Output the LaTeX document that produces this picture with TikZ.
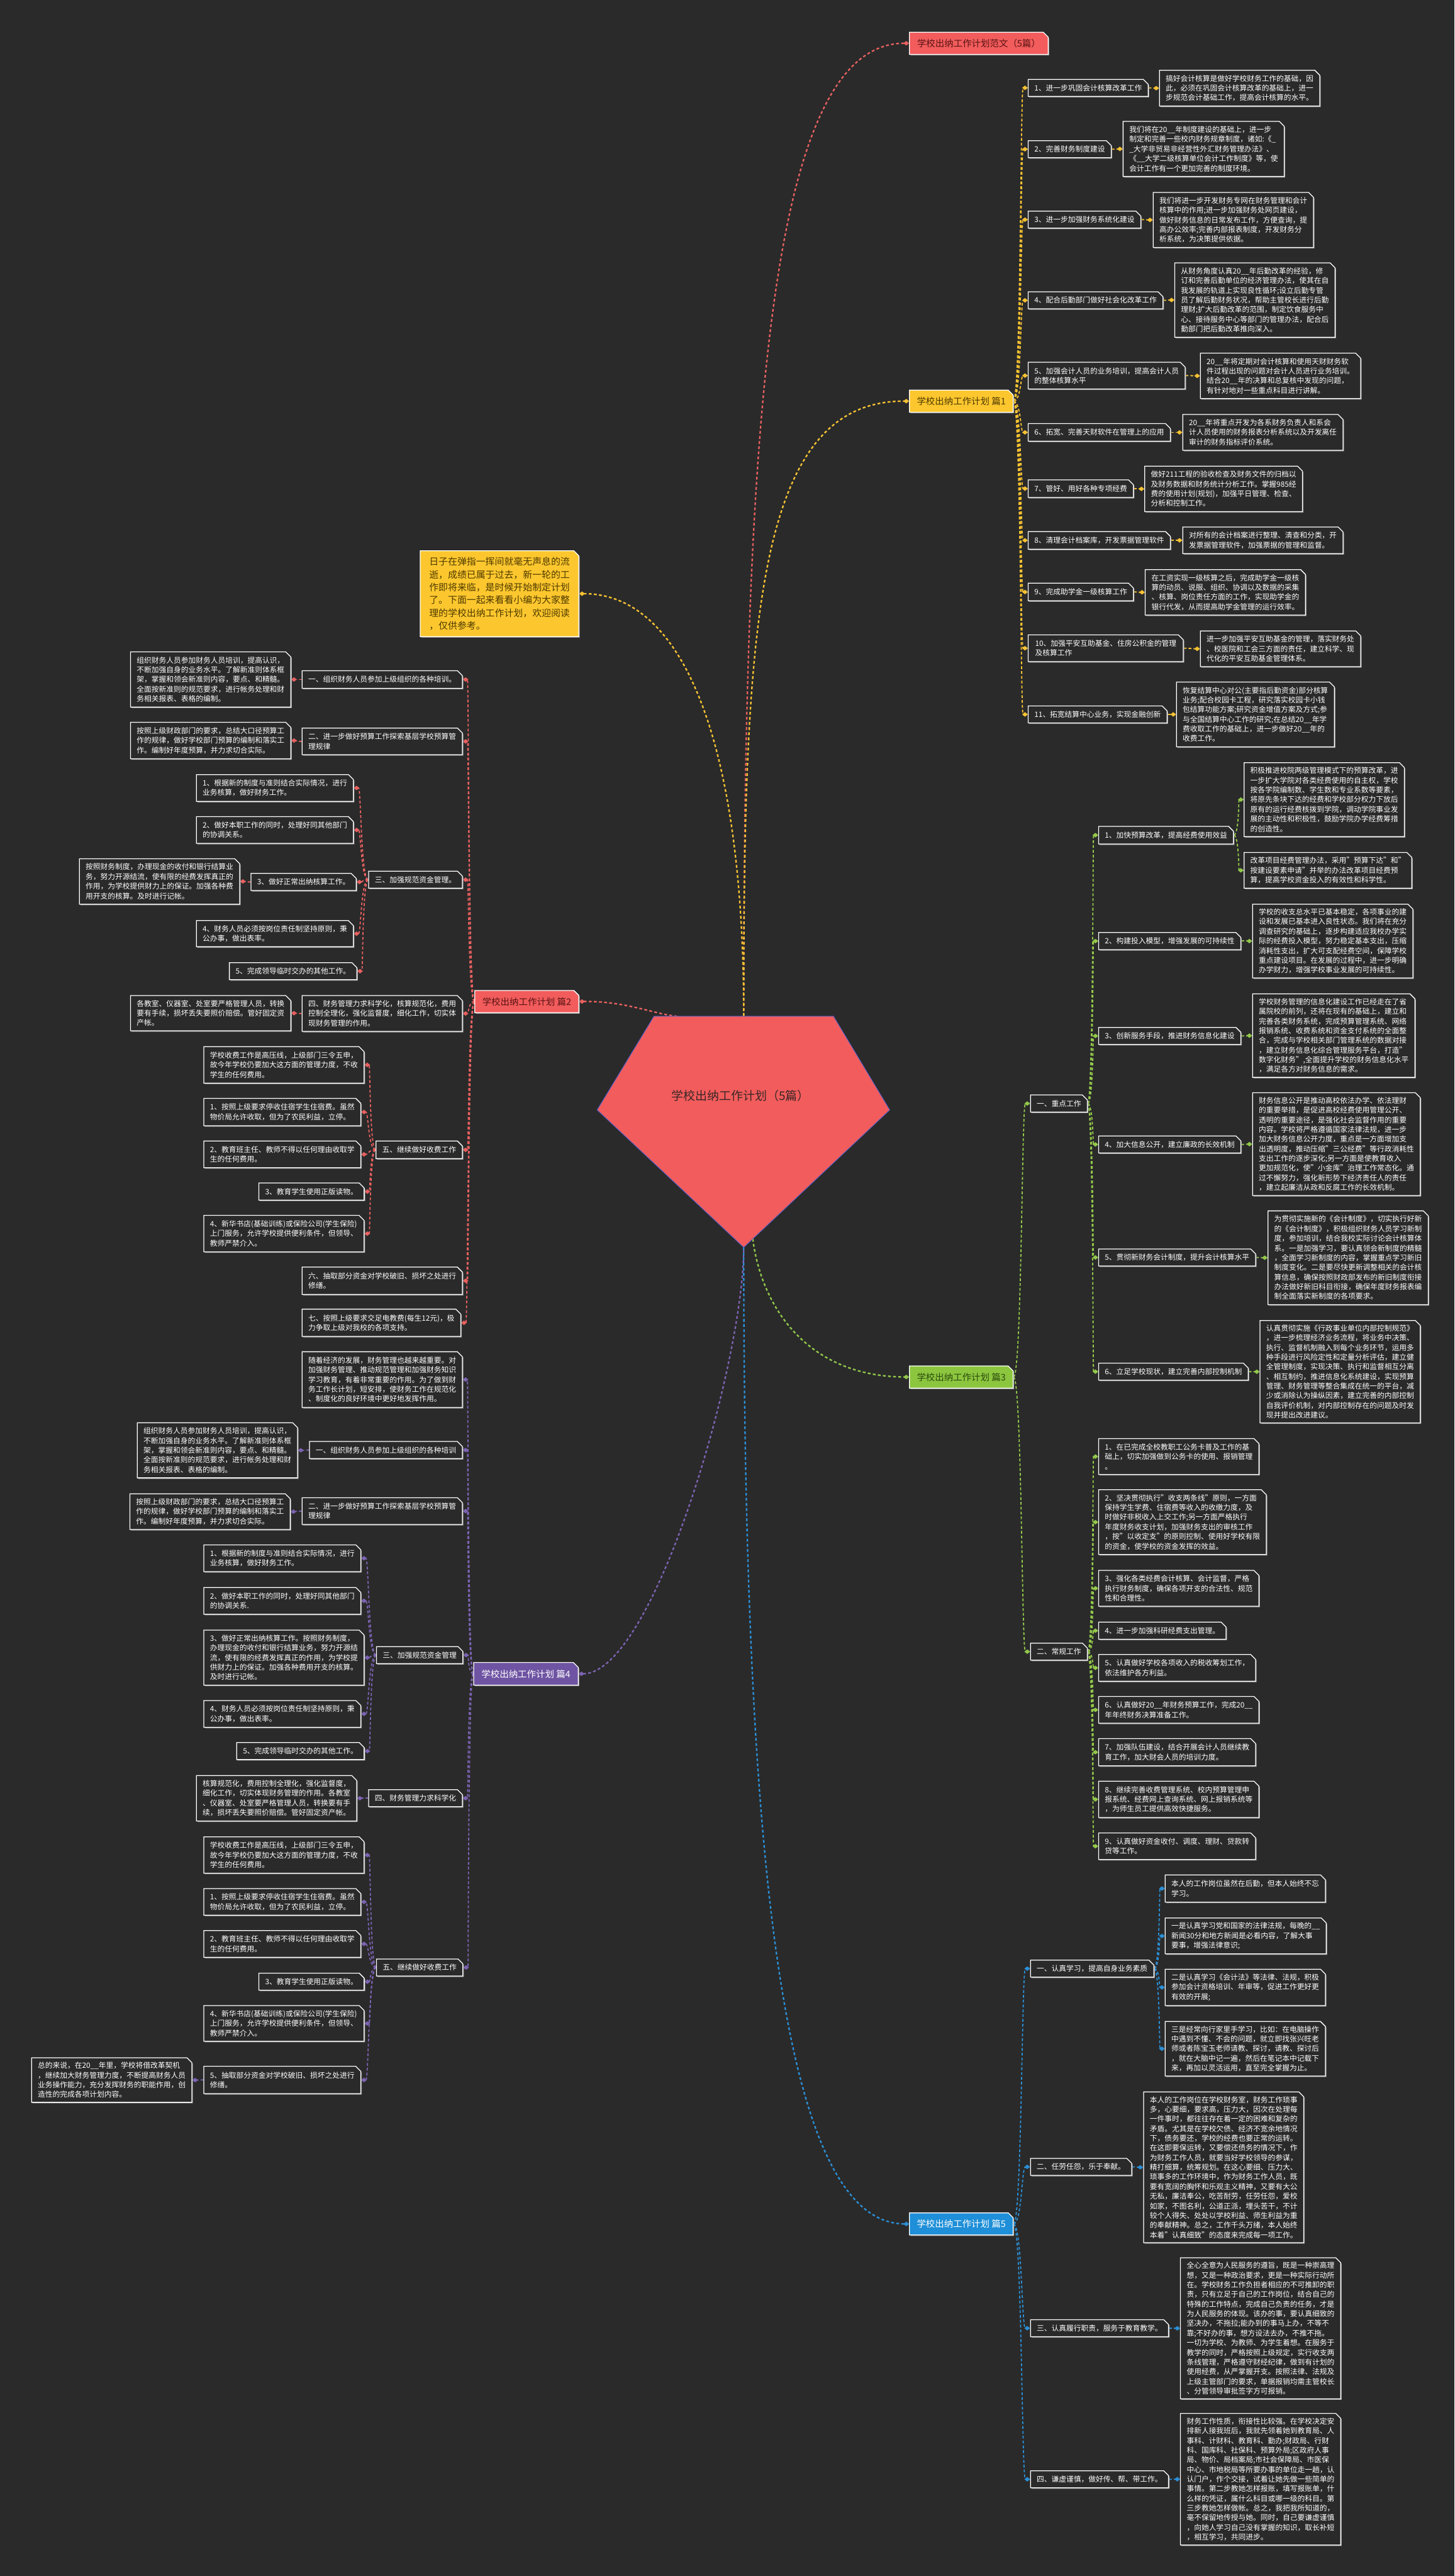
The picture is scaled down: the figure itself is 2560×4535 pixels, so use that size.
\documentclass[tikz,border=0pt]{standalone}
\usepackage{fontspec}
\setmainfont{Noto Sans CJK SC}
\usetikzlibrary{shapes.misc,arrows.meta,calc,shadows}
\pgfdeclarelayer{bglayer}
\pgfsetlayers{bglayer,main}
\definecolor{bgc}{HTML}{2A2A2A}
\definecolor{shd}{HTML}{8C8C8C}
\definecolor{cred}{HTML}{F25C5C}
\definecolor{cyel}{HTML}{FCC72E}
\definecolor{cgrn}{HTML}{8CC63F}
\definecolor{cpur}{HTML}{6F54A3}
\definecolor{cblu}{HTML}{1E8FD8}
\definecolor{cedge}{HTML}{4C5FD0}
\definecolor{tred}{HTML}{5A1212}
\definecolor{tyel}{HTML}{4F3A00}
\definecolor{tgrn}{HTML}{2A4A0C}
\definecolor{troot}{HTML}{3A2626}
\definecolor{lred}{HTML}{E86060}
\definecolor{lyel}{HTML}{F6C232}
\definecolor{lgrn}{HTML}{92C84A}
\definecolor{lpur}{HTML}{7C63B2}
\definecolor{lblu}{HTML}{2B8FD6}
\tikzset{
  box/.style={chamfered rectangle, chamfered rectangle corners=north east,
    chamfered rectangle xsep=5pt, draw=white, line width=1.4pt, fill=bgc,
    text=white, font=\fontsize{13}{17}\selectfont, align=left,
    anchor=north west, inner xsep=6pt, inner ysep=4pt,
    drop shadow={shadow xshift=1.8pt, shadow yshift=-1.8pt, fill=shd, opacity=1}},
  topic/.style={box, font=\fontsize{16}{20}\selectfont, inner xsep=8pt},
  lk/.style={line width=2pt, dash pattern=on 5pt off 3.5pt},
  lkT/.style={line width=2.6pt, dash pattern=on 5pt off 4pt},
  tipE/.style={-{Diamond[length=10pt,width=8pt]}},
  tipS/.style={{Diamond[length=10pt,width=8pt]}-},
}
\newcommand\mmbox[7][]{\node[box,minimum width=#5,minimum height=#6,#1] (#2) at (#3,#4) {#7};}
\newcommand\mmlink[3]{\draw[#1] let \p1=(#2), \p2=(#3), \n1={(\x1+\x2)/2} in (\p1) .. controls (\n1,\y1) and (\n1,\y2) .. (\p2);}
\begin{document}
\begin{tikzpicture}[x=1pt,y=-1pt]
\useasboundingbox (0,0) rectangle (2560,4535);
% root
\filldraw[fill=cred, draw=cedge, line width=1pt] (1151,1789) -- (1467,1789) -- (1566,1954) -- (1309,2196) -- (1051,1954) -- cycle;
\coordinate (rtop) at (1309,1789);
\coordinate (rtl) at (1191,1789);
\coordinate (rbr) at (1325,2181);
\coordinate (rbot) at (1309,2196);
\node[font=\fontsize{21}{25}\selectfont, text=troot] (root) at (1303,1929) {学校出纳工作计划（5篇）};

% top title
\node[topic, fill=cred, text=tred, minimum width=244, minimum height=39] (top) at (1600,56) {学校出纳工作计划范文（5篇）};

% ================= 篇1 =================
\node[topic, fill=cyel, text=tyel, minimum width=180, minimum height=39] (p1) at (1600,686) {学校出纳工作计划 篇1};
\mmbox{a1}{1809}{139}{201}{30}{1、进一步巩固会计核算改革工作}
\mmbox{a2}{1809}{247}{138}{30}{2、完善财务制度建设}
\mmbox{a3}{1809}{371}{190}{30}{3、进一步加强财务系统化建设}
\mmbox{a4}{1809}{513}{229}{30}{4、配合后勤部门做好社会化改革工作}
\mmbox{a5}{1809}{637}{273}{47}{5、加强会计人员的业务培训，提高会计人员\\的整体核算水平}
\mmbox{a6}{1809}{745}{242}{31}{6、拓宽、完善天财软件在管理上的应用}
\mmbox{a7}{1809}{844}{176}{31}{7、管好、用好各种专项经费}
\mmbox{a8}{1809}{935}{242}{31}{8、清理会计档案库，开发票据管理软件}
\mmbox{a9}{1809}{1026}{177}{31}{9、完成助学金一级核算工作}
\mmbox{a10}{1809}{1117}{273}{47}{10、加强平安互助基金、住房公积金的管理\\及核算工作}
\mmbox{a11}{1809}{1242}{231}{30}{11、拓宽结算中心业务，实现金融创新}

\mmbox{b1}{2040}{123}{273}{63}{搞好会计核算是做好学校财务工作的基础，因\\此，必须在巩固会计核算改革的基础上，进一\\步规范会计基础工作，提高会计核算的水平。}
\mmbox{b2}{1976}{213}{274}{97}{我们将在20\_\_年制度建设的基础上，进一步\\制定和完善一些校内财务规章制度，诸如:《\_\\\_大学非贸易非经营性外汇财务管理办法》、\\《\_\_大学二级核算单位会计工作制度》等，使\\会计工作有一个更加完善的制度环境。}
\mmbox{b3}{2029}{338}{273}{97}{我们将进一步开发财务专网在财务管理和会计\\核算中的作用;进一步加强财务处网页建设，\\做好财务信息的日常发布工作，方便查询，提\\高办公效率;完善内部报表制度，开发财务分\\析系统，为决策提供依据。}
\mmbox{b4}{2067}{462}{274}{131}{从财务角度认真20\_\_年后勤改革的经验，修\\订和完善后勤单位的经济管理办法，使其在自\\我发展的轨道上实现良性循环;设立后勤专管\\员了解后勤财务状况，帮助主管校长进行后勤\\理财;扩大后勤改革的范围，制定饮食服务中\\心、接待服务中心等部门的管理办法，配合后\\勤部门把后勤改革推向深入。}
\mmbox{b5}{2112}{621}{273}{80}{20\_\_年将定期对会计核算和使用天财财务软\\件过程出现的问题对会计人员进行业务培训。\\结合20\_\_年的决算和总复核中发现的问题，\\有针对地对一些重点科目进行讲解。}
\mmbox{b6}{2081}{729}{273}{63}{20\_\_年将重点开发为各系财务负责人和系会\\计人员使用的财务报表分析系统以及开发离任\\审计的财务指标评价系统。}
\mmbox{b7}{2014}{820}{274}{80}{做好211工程的验收检查及财务文件的归档以\\及财务数据和财务统计分析工作。掌握985经\\费的使用计划(规划)，加强平日管理、检查、\\分析和控制工作。}
\mmbox{b8}{2081}{927}{273}{47}{对所有的会计档案进行整理、清查和分类，开\\发票据管理软件，加强票据的管理和监督。}
\mmbox{b9}{2015}{1002}{274}{80}{在工资实现一级核算之后，完成助学金一级核\\算的动员、说服、组织、协调以及数据的采集\\、核算、岗位责任方面的工作，实现助学金的\\银行代发，从而提高助学金管理的运行效率。}
\mmbox{b10}{2112}{1110}{273}{63}{进一步加强平安互助基金的管理，落实财务处\\、校医院和工会三方面的责任，建立科学、现\\代化的平安互助基金管理体系。}
\mmbox{b11}{2070}{1200}{273}{114}{恢复结算中心对公(主要指后勤资金)部分核算\\业务;配合校园卡工程，研究落实校园卡小钱\\包结算功能方案;研究资金增值方案及方式;参\\与全国结算中心工作的研究;在总结20\_\_年学\\费收取工作的基础上，进一步做好20\_\_年的\\收费工作。}

% note
\node[box, fill=cyel, text=tyel, font=\fontsize{16.5}{22.5}\selectfont, inner xsep=9pt, minimum width=279, minimum height=151] (note) at (739,969) {日子在弹指一挥间就毫无声息的流\\逝，成绩已属于过去，新一轮的工\\作即将来临，是时候开始制定计划\\了。下面一起来看看小编为大家整\\理的学校出纳工作计划，欢迎阅读\\，仅供参考。};

% ================= 篇2 =================
\node[topic, fill=cred, text=tred, minimum width=183, minimum height=39] (p2) at (835,1743) {学校出纳工作计划 篇2};
\mmbox{e1}{531}{1180}{274}{31}{一、组织财务人员参加上级组织的各种培训。}
\mmbox{e2}{531}{1281}{274}{47}{二、进一步做好预算工作探索基层学校预算管\\理规律}
\mmbox{e3}{648}{1533}{157}{30}{三、加强规范资金管理。}
\mmbox{e4}{531}{1752}{274}{63}{四、财务管理力求科学化，核算规范化，费用\\控制全理化，强化监督度，细化工作，切实体\\现财务管理的作用。}
\mmbox{e5}{661}{2008}{144}{31}{五、继续做好收费工作}
\mmbox{e6}{531}{2230}{274}{48}{六、抽取部分资金对学校破旧、损坏之处进行\\修缮。}
\mmbox{e7}{531}{2304}{274}{48}{七、按照上级要求交足电教费(每生12元)，极\\力争取上级对我校的各项支持。}
\mmbox{f1}{229}{1147}{273}{97}{组织财务人员参加财务人员培训，提高认识，\\不断加强自身的业务水平。了解新准则体系框\\架，掌握和领会新准则内容，要点、和精髓。\\全面按新准则的规范要求，进行帐务处理和财\\务相关报表、表格的编制。}
\mmbox{f2}{229}{1271}{273}{64}{按照上级财政部门的要求，总结大口径预算工\\作的规律，做好学校部门预算的编制和落实工\\作。编制好年度预算，并力求切合实际。}
\mmbox{f4}{229}{1752}{273}{62}{各教室、仪器室、处室要严格管理人员，转换\\要有手续，损坏丢失要照价赔偿。管好固定资\\产帐。}
\mmbox{g1}{345}{1363}{275}{47}{1、根据新的制度与准则结合实际情况，进行\\业务核算，做好财务工作。}
\mmbox{g2}{345}{1437}{275}{47}{2、做好本职工作的同时，处理好同其他部门\\的协调关系。}
\mmbox{g3}{441}{1537}{179}{30}{3、做好正常出纳核算工作。}
\mmbox{g3d}{139}{1511}{273}{80}{按照财务制度，办理现金的收付和银行结算业\\务，努力开源结流，使有限的经费发挥真正的\\作用，为学校提供财力上的保证。加强各种费\\用开支的核算。及时进行记帐。}
\mmbox{g4}{345}{1620}{275}{46}{4、财务人员必须按岗位责任制坚持原则，秉\\公办事，做出表率。}
\mmbox{g5}{403}{1694}{217}{30}{5、完成领导临时交办的其他工作。}
\mmbox{h0}{358}{1842}{274}{64}{学校收费工作是高压线，上级部门三令五申，\\故今年学校仍要加大这方面的管理力度，不收\\学生的任何费用。}
\mmbox{h1}{358}{1933}{274}{48}{1、按照上级要求停收住宿学生住宿费。虽然\\物价局允许收取，但为了农民利益，立停。}
\mmbox{h2}{358}{2008}{274}{47}{2、教育班主任、教师不得以任何理由收取学\\生的任何费用。}
\mmbox{h3}{455}{2082}{177}{30}{3、教育学生使用正版读物。}
\mmbox{h4}{358}{2139}{274}{64}{4、新华书店(基础训练)或保险公司(学生保险)\\上门服务，允许学校提供便利条件，但领导、\\教师严禁介入。}

% ================= 篇3 =================
\node[topic, fill=cgrn, text=tgrn, minimum width=182, minimum height=39] (p3) at (1600,2404) {学校出纳工作计划 篇3};
\mmbox{q1}{1813}{1927}{90}{30}{一、重点工作}
\mmbox{q2}{1813}{2892}{90}{30}{二、常规工作}
\mmbox{r1}{1933}{1454}{227}{31}{1、加快预算改革，提高经费使用效益}
\mmbox{r2}{1933}{1641}{242}{30}{2、构建投入模型，增强发展的可持续性}
\mmbox{r3}{1933}{1808}{242}{30}{3、创新服务手段，推进财务信息化建设}
\mmbox{r4}{1933}{1999}{242}{30}{4、加大信息公开，建立廉政的长效机制}
\mmbox{r5}{1933}{2198}{268}{30}{5、贯彻新财务会计制度，提升会计核算水平}
\mmbox{r6}{1933}{2399}{255}{30}{6、立足学校现状，建立完善内部控制机制}
\mmbox{r1a}{2189}{1342}{273}{130}{积极推进校院两级管理模式下的预算改革，进\\一步扩大学院对各类经费使用的自主权，学校\\按各学院编制数、学生数和专业系数等要素，\\将原先条块下达的经费和学校部分权力下放后\\原有的运行经费核拨到学院，调动学院事业发\\展的主动性和积极性，鼓励学院办学经费筹措\\的创造性。}
\mmbox{r1b}{2189}{1500}{273}{63}{改革项目经费管理办法，采用"预算下达"和"\\按建设要素申请"并举的办法改革项目经费预\\算，提高学校资金投入的有效性和科学性。}
\mmbox{r2d}{2204}{1591}{274}{130}{学校的收支总水平已基本稳定，各项事业的建\\设和发展已基本进入良性状态。我们将在充分\\调查研究的基础上，逐步构建适应我校办学实\\际的经费投入模型，努力稳定基本支出，压缩\\消耗性支出，扩大可支配经费空间，保障学校\\重点建设项目。在发展的过程中，进一步明确\\办学财力，增强学校事业发展的可持续性。}
\mmbox{r3d}{2204}{1749}{274}{147}{学校财务管理的信息化建设工作已经走在了省\\属院校的前列，还将在现有的基础上，建立和\\完善各类财务系统，完成预算管理系统、网络\\报销系统、收费系统和资金支付系统的全面整\\合，完成与学校相关部门管理系统的数据对接\\，建立财务信息化综合管理服务平台，打造"\\数字化财务",全面提升学校的财务信息化水平\\，满足各方对财务信息的需求。}
\mmbox{r4d}{2204}{1923}{274}{181}{财务信息公开是推动高校依法办学、依法理财\\的重要举措，是促进高校经费使用管理公开、\\透明的重要途径，是强化社会监督作用的重要\\内容。学校将严格遵循国家法律法规，进一步\\加大财务信息公开力度，重点是一方面增加支\\出透明度，推动压缩"三公经费"等行政消耗性\\支出工作的逐步深化;另一方面是使教育收入\\更加规范化，使"小金库"治理工作常态化。通\\过不懈努力，强化新形势下经济责任人的责任\\，建立起廉洁从政和反腐工作的长效机制。}
\mmbox{r5d}{2231}{2131}{273}{165}{为贯彻实施新的《会计制度》，切实执行好新\\的《会计制度》，积极组织财务人员学习新制\\度，参加培训，结合我校实际讨论会计核算体\\系。一是加强学习，要认真领会新制度的精髓\\，全面学习新制度的内容，掌握重点学习新旧\\制度变化。二是要尽快更新调整相关的会计核\\算信息，确保按照财政部发布的新旧制度衔接\\办法做好新旧科目衔接，确保年度财务报表编\\制全面落实新制度的各项要求。}
\mmbox{r6d}{2217}{2324}{274}{180}{认真贯彻实施《行政事业单位内部控制规范》\\，进一步梳理经济业务流程，将业务中决策、\\执行、监督机制融入到每个业务环节，运用多\\种手段进行风险定性和定量分析评估，建立健\\全管理制度，实现决策、执行和监督相互分离\\、相互制约，推进信息化系统建设，实现预算\\管理、财务管理等整合集成在统一的平台，减\\少或消除认为操纵因素，建立完善的内部控制\\自我评价机制，对内部控制存在的问题及时发\\现并提出改进建议。}
\mmbox{s1}{1933}{2532}{273}{63}{1、在已完成全校教职工公务卡普及工作的基\\础上，切实加强做到公务卡的使用、报销管理\\。}
\mmbox{s2}{1933}{2622}{273}{114}{2、坚决贯彻执行"收支两条线"原则，一方面\\保持学生学费、住宿费等收入的收缴力度，及\\时做好非税收入上交工作;另一方面严格执行\\年度财务收支计划，加强财务支出的审核工作\\，按"以收定支"的原则控制、使用好学校有限\\的资金，使学校的资金发挥的效益。}
\mmbox{s3}{1933}{2764}{273}{63}{3、强化各类经费会计核算、会计监督，严格\\执行财务制度，确保各项开支的合法性、规范\\性和合理性。}
\mmbox{s4}{1933}{2855}{216}{30}{4、进一步加强科研经费支出管理。}
\mmbox{s5}{1933}{2912}{273}{47}{5、认真做好学校各项收入的税收筹划工作，\\依法维护各方利益。}
\mmbox{s6}{1933}{2986}{273}{47}{6、认真做好20\_\_年财务预算工作，完成20\_\_\\年年终财务决算准备工作。}
\mmbox{s7}{1933}{3060}{273}{48}{7、加强队伍建设，结合开展会计人员继续教\\育工作，加大财会人员的培训力度。}
\mmbox{s8}{1933}{3135}{273}{64}{8、继续完善收费管理系统、校内预算管理申\\报系统、经费网上查询系统、网上报销系统等\\，为师生员工提供高效快捷服务。}
\mmbox{s9}{1933}{3226}{273}{47}{9、认真做好资金收付、调度、理财、贷款转\\贷等工作。}

% ================= 篇4 =================
\node[topic, fill=cpur, text=white, minimum width=184, minimum height=40] (p4) at (833,2926) {学校出纳工作计划 篇4};
\mmbox{k0}{531}{2379}{274}{98}{随着经济的发展，财务管理也越来越重要。对\\加强财务管理、推动规范管理和加强财务知识\\学习教育，有着非常重要的作用。为了做到财\\务工作长计划，短安排，使财务工作在规范化\\、制度化的良好环境中更好地发挥作用。}
\mmbox{k1}{544}{2537}{261}{30}{一、组织财务人员参加上级组织的各种培训}
\mmbox{k2}{531}{2636}{274}{47}{二、进一步做好预算工作探索基层学校预算管\\理规律}
\mmbox{k3}{662}{2898}{143}{30}{三、加强规范资金管理}
\mmbox{k4}{648}{3150}{157}{30}{四、财务管理力求科学化}
\mmbox{k5}{662}{3448}{143}{30}{五、继续做好收费工作}
\mmbox{k1d}{241}{2504}{275}{97}{组织财务人员参加财务人员培训，提高认识，\\不断加强自身的业务水平。了解新准则体系框\\架，掌握和领会新准则内容，要点、和精髓。\\全面按新准则的规范要求，进行帐务处理和财\\务相关报表、表格的编制。}
\mmbox{k2d}{228}{2629}{274}{63}{按照上级财政部门的要求，总结大口径预算工\\作的规律，做好学校部门预算的编制和落实工\\作。编制好年度预算，并力求切合实际。}
\mmbox{k4d}{345}{3125}{274}{80}{核算规范化，费用控制全理化，强化监督度，\\细化工作，切实体现财务管理的作用。各教室\\、仪器室、处室要严格管理人员，转换要有手\\续，损坏丢失要照价赔偿。管好固定资产帐。}
\mmbox{m1}{358}{2719}{273}{47}{1、根据新的制度与准则结合实际情况，进行\\业务核算，做好财务工作。}
\mmbox{m2}{358}{2794}{273}{47}{2、做好本职工作的同时，处理好同其他部门\\的协调关系.}
\mmbox{m3}{358}{2869}{273}{97}{3、做好正常出纳核算工作。按照财务制度，\\办理现金的收付和银行结算业务，努力开源结\\流，使有限的经费发挥真正的作用，为学校提\\供财力上的保证。加强各种费用开支的核算。\\及时进行记帐。}
\mmbox{m4}{358}{2993}{273}{47}{4、财务人员必须按岗位责任制坚持原则，秉\\公办事，做出表率。}
\mmbox{m5}{416}{3067}{215}{30}{5、完成领导临时交办的其他工作。}
\mmbox{n0}{358}{3233}{273}{64}{学校收费工作是高压线，上级部门三令五申，\\故今年学校仍要加大这方面的管理力度，不收\\学生的任何费用。}
\mmbox{n1}{358}{3324}{273}{47}{1、按照上级要求停收住宿学生住宿费。虽然\\物价局允许收取，但为了农民利益，立停。}
\mmbox{n2}{358}{3398}{273}{47}{2、教育班主任、教师不得以任何理由收取学\\生的任何费用。}
\mmbox{n3}{455}{3473}{176}{30}{3、教育学生使用正版读物。}
\mmbox{n4}{358}{3530}{273}{63}{4、新华书店(基础训练)或保险公司(学生保险)\\上门服务，允许学校提供便利条件，但领导、\\教师严禁介入。}
\mmbox{n5}{358}{3637}{273}{48}{5、抽取部分资金对学校破旧、损坏之处进行\\修缮。}
\mmbox{n5d}{55}{3622}{274}{78}{总的来说，在20\_\_年里，学校将借改革契机\\，继续加大财务管理力度，不断提高财务人员\\业务操作能力，充分发挥财务的职能作用，创\\造性的完成各项计划内容。}

% ================= 篇5 =================
\node[topic, fill=cblu, text=white, minimum width=182, minimum height=39] (p5) at (1600,3895) {学校出纳工作计划 篇5};
\mmbox{u1}{1813}{3450}{207}{30}{一、认真学习，提高自身业务素质}
\mmbox{u2}{1813}{3799}{168}{30}{二、任劳任怨，乐于奉献。}
\mmbox{u3}{1813}{4083}{234}{30}{三、认真履行职责，服务于教育教学。}
\mmbox{u4}{1813}{4349}{234}{30}{四、谦虚谨慎，做好传、帮、带工作。}
\mmbox{v1}{2050}{3300}{273}{48}{本人的工作岗位虽然在后勤，但本人始终不忘\\学习。}
\mmbox{v2}{2050}{3376}{273}{63}{一是认真学习党和国家的法律法规，每晚的\_\_\\新闻30分和地方新闻是必看内容，了解大事\\要事，增强法律意识;}
\mmbox{v3}{2050}{3466}{273}{64}{二是认真学习《会计法》等法律、法规，积极\\参加会计资格培训、年审等，促进工作更好更\\有效的开展;}
\mmbox{v4}{2050}{3558}{273}{96}{三是经常向行家里手学习，比如：在电脑操作\\中遇到不懂、不会的问题，就立即找张兴旺老\\师或者陈宝玉老师请教、探讨，请教、探讨后\\，就在大脑中记一遍，然后在笔记本中记载下\\来，再加以灵活运用，直至完全掌握为止。}
\mmbox{u2d}{2012}{3682}{273}{264}{本人的工作岗位在学校财务室，财务工作琐事\\多，心要细，要求高，压力大，因次在处理每\\一件事时，都往往存在着一定的困难和复杂的\\矛盾。尤其是在学校欠债、经济不宽余地情况\\下，债务要还，学校的经费也要正常的运转。\\在这即要保运转，又要偿还债务的情况下，作\\为财务工作人员，就要当好学校领导的参谋，\\精打细算，统筹规划。在这心要细、压力大、\\琐事多的工作环境中，作为财务工作人员，既\\要有宽阔的胸怀和乐观主义精神，又要有大公\\无私，廉洁奉公，吃苦耐劳，任劳任怨，爱校\\如家，不图名利，公道正派，埋头苦干，不计\\较个人得失、处处以学校利益、师生利益为重\\的奉献精神。总之，工作千头万绪，本人始终\\本着”认真细致”的态度来完成每一项工作。}
\mmbox{u3d}{2077}{3974}{273}{247}{全心全意为人民服务的遵旨，既是一种崇高理\\想，又是一种政治要求，更是一种实际行动所\\在。学校财务工作负担者相应的不可推卸的职\\责，只有立足于自己的工作岗位，结合自己的\\特殊的工作特点，完成自己负责的任务，才是\\为人民服务的体现。该办的事，要认真细致的\\坚决办，不拖拉;能办到的事马上办，不等不\\靠;不好办的事，想方设法去办，不推不拖。\\一切为学校、为教师、为学生着想。在服务于\\教学的同时，严格按照上级规定，实行收支两\\条线管理，严格遵守财经纪律，做到有计划的\\使用经费，从严掌握开支。按照法律、法规及\\上级主管部门的要求，单据报销均需主管校长\\、分管领导审批签字方可报销。}
\mmbox{u4d}{2077}{4248}{273}{231}{财务工作性质，衔接性比较强。在学校决定安\\排新人接我班后，我就先领着她到教育局、人\\事科、计财科、教育科、勤办;财政局、行财\\科、国库科、社保科、预算外局;区政府人事\\局、物价、局档案局;市社会保障局、市医保\\中心、市地税局等所要办事的单位走一趟，认\\认门户，作个交接，试着让她先做一些简单的\\事情。第二步教她怎样报账，填写报账单，什\\么样的凭证，属什么科目或哪一级的科目。第\\三步教她怎样做帐。总之，我把我所知道的，\\毫不保留地传授与她。同时，自己要谦虚谨慎\\，向她人学习自己没有掌握的知识，取长补短\\，相互学习，共同进步。}

% ================= connectors =================
\begin{pgfonlayer}{bglayer}
\fill[bgc] (0,0) rectangle (2560,4535);
% root level
\draw[lkT, lred, tipE] (rtop) .. controls (1309,700) and (1360,75) .. (top.west);
\draw[lkT, lyel, tipE] (rtop) .. controls (1309,1100) and (1330,705) .. (p1.west);
\draw[lkT, lyel, tipS] (note.east) .. controls (1200,1045) and (1309,1300) .. (rtop);
\draw[lkT, lred, tipS] (p2.east) .. controls (1100,1762) and (1150,1785) .. (rtl);
\draw[lkT, lgrn, tipE] (rbr) .. controls (1340,2300) and (1420,2423) .. (p3.west);
\draw[lkT, lpur, tipS] (p4.east) .. controls (1150,2946) and (1309,2400) .. (rbot);
\draw[lkT, lblu, tipE] (rbot) .. controls (1309,3300) and (1380,3914) .. (p5.west);
% 篇1
\foreach \i in {1,...,11} {
  \mmlink{lk,lyel,tipE}{p1.east}{a\i.west}
  \mmlink{lk,lyel,tipE}{a\i.east}{b\i.west}
}
% 篇2
\foreach \c in {e1,e2,e3,e4,e5,e6,e7} {\mmlink{lk,lred,tipE}{p2.west}{\c.east}}
\mmlink{lk,lred,tipE}{e1.west}{f1.east}
\mmlink{lk,lred,tipE}{e2.west}{f2.east}
\mmlink{lk,lred,tipE}{e4.west}{f4.east}
\foreach \c in {g1,g2,g3,g4,g5} {\mmlink{lk,lred,tipE}{e3.west}{\c.east}}
\mmlink{lk,lred,tipE}{g3.west}{g3d.east}
\foreach \c in {h0,h1,h2,h3,h4} {\mmlink{lk,lred,tipE}{e5.west}{\c.east}}
% 篇3
\mmlink{lk,lgrn,tipE}{p3.east}{q1.west}
\mmlink{lk,lgrn,tipE}{p3.east}{q2.west}
\foreach \c in {r1,r2,r3,r4,r5,r6} {\mmlink{lk,lgrn,tipE}{q1.east}{\c.west}}
\mmlink{lk,lgrn,tipE}{r1.east}{r1a.west}
\mmlink{lk,lgrn,tipE}{r1.east}{r1b.west}
\foreach \c in {2,3,4,5,6} {\mmlink{lk,lgrn,tipE}{r\c.east}{r\c d.west}}
\foreach \c in {s1,s2,s3,s4,s5,s6,s7,s8,s9} {\mmlink{lk,lgrn,tipE}{q2.east}{\c.west}}
% 篇4
\foreach \c in {k0,k1,k2,k3,k4,k5} {\mmlink{lk,lpur,tipE}{p4.west}{\c.east}}
\mmlink{lk,lpur,tipE}{k1.west}{k1d.east}
\mmlink{lk,lpur,tipE}{k2.west}{k2d.east}
\mmlink{lk,lpur,tipE}{k4.west}{k4d.east}
\foreach \c in {m1,m2,m3,m4,m5} {\mmlink{lk,lpur,tipE}{k3.west}{\c.east}}
\foreach \c in {n0,n1,n2,n3,n4,n5} {\mmlink{lk,lpur,tipE}{k5.west}{\c.east}}
\mmlink{lk,lpur,tipE}{n5.west}{n5d.east}
% 篇5
\foreach \c in {u1,u2,u3,u4} {\mmlink{lk,lblu,tipE}{p5.east}{\c.west}}
\foreach \c in {v1,v2,v3,v4} {\mmlink{lk,lblu,tipE}{u1.east}{\c.west}}
\mmlink{lk,lblu,tipE}{u2.east}{u2d.west}
\mmlink{lk,lblu,tipE}{u3.east}{u3d.west}
\mmlink{lk,lblu,tipE}{u4.east}{u4d.west}
\end{pgfonlayer}
\end{tikzpicture}
\end{document}
